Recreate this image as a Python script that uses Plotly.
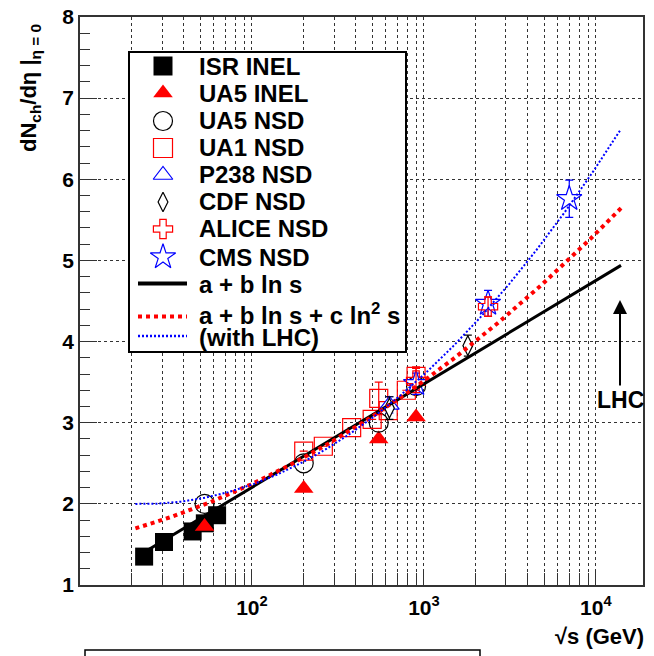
import numpy as np
import plotly.graph_objects as go

# ---- measurements: sqrt(s) [GeV] and dN_ch/deta at eta = 0 ----
isr_inel_e = [23.6, 30.8, 45.2, 53.2, 62.7]
isr_inel_v = [1.35, 1.53, 1.66, 1.76, 1.86]

ua5_inel_e = [53, 200, 546, 900]
ua5_inel_v = [1.72, 2.19, 2.80, 3.07]

ua5_nsd_e = [53, 200, 546, 900]
ua5_nsd_v = [2.00, 2.50, 3.00, 3.45]

ua1_nsd_e = [200, 260, 380, 500, 546, 620, 790, 900]
ua1_nsd_v = [2.65, 2.71, 2.94, 3.04, 3.30, 3.15, 3.40, 3.57]
ua1_nsd_err = [0, 0, 0, 0, 0.20, 0, 0, 0.12]

p238_nsd_e = [630]
p238_nsd_v = [3.22]
p238_nsd_err = [0.10]

cdf_nsd_e = [630, 1800]
cdf_nsd_v = [3.18, 3.95]
cdf_nsd_err = [0.14, 0.13]

alice_nsd_e = [900, 2360]
alice_nsd_v = [3.52, 4.43]
alice_nsd_err = [0.15, 0.12]

cms_nsd_e = [900, 2360, 7000]
cms_nsd_v = [3.48, 4.47, 5.76]
cms_nsd_err = [0.13, 0.16, 0.23]

# fit parameters for dN/deta = a + b ln s + c ln^2 s, with the sqrt(s) span drawn
fit_lin = dict(a=-0.346, b=0.2768, c=0.0, lo=23.6, hi=14000)
fit_quad = dict(a=1.3528, b=-0.02221, c=0.012934, lo=21, hi=14000)
fit_quad_lhc = dict(a=3.1176, b=-0.35552, c=0.028226, lo=21, hi=14000)

# axis ticks
x_major = [100, 1000, 10000]
x_major_text = ["10<sup>2</sup>", "10<sup>3</sup>", "10<sup>4</sup>"]
x_minor = [m * d for d in (10, 100, 1000) for m in range(2, 10)]
y_major = [1, 2, 3, 4, 5, 6, 7, 8]

legend_labels = ["ISR INEL", "UA5 INEL", "UA5 NSD", "UA1 NSD", "P238 NSD",
                 "CDF NSD", "ALICE NSD", "CMS NSD"]
fit_labels = ["a + b ln s", "a + b ln s + c ln<sup>2</sup> s", "(with LHC)"]

# ---- page geometry (pixels) ----
W, H = 654, 656
L, R, T, B = 80, 643, 17, 585
FONT = "Liberation Sans, Arial, Helvetica, sans-serif"
RED, BLUE = "#ff0000", "#0000ff"


def px_x(px):
    return (px - L) / (R - L)


def px_y(py):
    return (B - py) / (B - T)


def fit_curve(p, n=300):
    e = np.logspace(np.log10(p["lo"]), np.log10(p["hi"]), n)
    ln_s = np.log(e ** 2)
    return e, p["a"] + p["b"] * ln_s + p["c"] * ln_s ** 2


fig = go.Figure()


def points(x, y, symbol, color, size, err=None, fill=None, lw=1.2):
    kw = {}
    if err is not None:
        kw["error_y"] = dict(type="data", array=err, color=color,
                             thickness=1.2, width=4)
    fig.add_trace(go.Scatter(
        x=x, y=y, mode="markers", showlegend=False, cliponaxis=False,
        marker=dict(symbol=symbol, size=size,
                    color=fill if fill else color,
                    line=dict(color=color, width=lw)),
        **kw))


points(isr_inel_e, isr_inel_v, "square", "black", 18, lw=0)
points(ua5_inel_e, ua5_inel_v, "triangle-up", RED, 17, lw=0)
points(ua5_nsd_e, ua5_nsd_v, "circle-open", "black", 19)
points(ua1_nsd_e, ua1_nsd_v, "square-open", RED, 18, err=ua1_nsd_err)
points(p238_nsd_e, p238_nsd_v, "triangle-up", BLUE, 17, err=p238_nsd_err, fill="white")
points(cdf_nsd_e, cdf_nsd_v, "diamond-tall", "black", 14, err=cdf_nsd_err, fill="white")
points(cms_nsd_e, cms_nsd_v, "star", BLUE, 19, err=cms_nsd_err, fill="white")
points(alice_nsd_e, alice_nsd_v, "cross-open", RED, 16, err=alice_nsd_err)

# fitted curves
fit_styles = [
    (fit_lin, dict(color="black", width=3)),
    (fit_quad, dict(color=RED, width=4, dash="4px,4px")),
    (fit_quad_lhc, dict(color=BLUE, width=2, dash="2px,2px")),
]
for p, st in fit_styles:
    fx, fy = fit_curve(p)
    fig.add_trace(go.Scatter(x=fx, y=fy, mode="lines", line=st,
                             showlegend=False, hoverinfo="skip"))

# ---- legend drawn on a pixel-scaled overlay subplot ----
leg_mx = 163
leg_rows = [66, 93, 121, 148, 175, 202, 229, 257]
leg_markers = [
    ("square", "black", 19, True),
    ("triangle-up", RED, 17, True),
    ("circle-open", "black", 19, False),
    ("square-open", RED, 19, False),
    ("triangle-up-open", BLUE, 17, False),
    ("diamond-tall-open", "black", 14, False),
    ("cross-open", RED, 16, False),
    ("star-open", BLUE, 19, False),
]
for (sym, col, sz, filled), ry in zip(leg_markers, leg_rows):
    fig.add_trace(go.Scatter(
        x=[leg_mx], y=[ry], mode="markers", xaxis="x2", yaxis="y2",
        showlegend=False, cliponaxis=False, hoverinfo="skip",
        marker=dict(symbol=sym, size=sz, color=col,
                    line=dict(color=col, width=0 if filled else 1.2))))

line_rows = [283.5, 316.5, 336]
for (p, st), ry in zip(fit_styles, line_rows):
    st2 = dict(st)
    if st2["color"] == "black":
        st2["width"] = 4
    if st2["color"] == BLUE:
        st2["width"] = 2.5
    fig.add_trace(go.Scatter(
        x=[138, 187], y=[ry, ry], mode="lines", xaxis="x2", yaxis="y2",
        showlegend=False, hoverinfo="skip", line=st2))

annotations = []
text_rows = leg_rows + [284.5, 314, 337]
for lab, ry in zip(legend_labels + fit_labels, text_rows):
    annotations.append(dict(
        text=lab, x=px_x(197), y=px_y(ry), xref="paper", yref="paper",
        xanchor="left", yanchor="middle", showarrow=False,
        font=dict(family=FONT, size=24, color="black", weight="bold")))

# axis titles
annotations.append(dict(
    text="dN<sub>ch</sub>/dη |<sub>η = 0</sub>", x=px_x(30), y=px_y(88),
    xref="paper", yref="paper", xanchor="center", yanchor="middle",
    textangle=-90, showarrow=False,
    font=dict(family=FONT, size=22, color="black", weight="bold")))
annotations.append(dict(
    text="√s (GeV)", x=px_x(646), y=px_y(636), xref="paper", yref="paper",
    xanchor="right", yanchor="middle", showarrow=False,
    font=dict(family=FONT, size=22, color="black", weight="bold")))

# LHC energy marker
annotations.append(dict(
    text="LHC", x=px_x(620), y=px_y(300), xref="paper", yref="paper",
    ax=0, ay=100, showarrow=True, arrowhead=2, arrowsize=1.4,
    arrowwidth=2, arrowcolor="black",
    font=dict(family=FONT, size=23, color="black", weight="bold")))

# caption box at the foot of the page
annotations.append(dict(
    text="Pseudorapidity density (NSD)", x=px_x(282), y=px_y(664),
    xref="paper", yref="paper", xanchor="center", yanchor="middle",
    showarrow=False,
    font=dict(family=FONT, size=20, color="#e4e4e4", weight="bold")))

shapes = [
    # legend frame
    dict(type="rect", xref="x2", yref="y2", x0=129, x1=406, y0=52, y1=352,
         fillcolor="white", line=dict(color="black", width=2), layer="below"),
    dict(type="rect", xref="paper", yref="paper", x0=px_x(85), x1=px_x(480),
         y0=px_y(650), y1=px_y(680), fillcolor="rgba(0,0,0,0)",
         line=dict(color="black", width=1.5)),
]

axis_common = dict(showline=True, linecolor="#333", linewidth=1.5, mirror=True,
                   ticks="inside", tickcolor="#333", tickwidth=1,
                   showgrid=True, gridcolor="#333", griddash="dot", gridwidth=1,
                   zeroline=False, automargin=False,
                   tickfont=dict(family=FONT, size=21, color="black", weight="bold"))

fig.update_layout(
    width=W, height=H, margin=dict(l=L, r=W - R, t=T, b=H - B, pad=0,
                                   autoexpand=False),
    paper_bgcolor="white", plot_bgcolor="rgba(0,0,0,0)", showlegend=False,
    xaxis=dict(type="log", range=[1, 4.274], tickmode="array",
               tickvals=x_major, ticktext=x_major_text, ticklen=16,
               ticklabelstandoff=3,
               minor=dict(tickmode="array", tickvals=x_minor, ticklen=12,
                          ticks="inside", tickcolor="#333", showgrid=True,
                          gridcolor="#333", griddash="dot", gridwidth=1),
               **axis_common),
    yaxis=dict(range=[1, 8], tickmode="array", tickvals=y_major, ticklen=17,
               minor=dict(dtick=0.2, ticklen=10, ticks="inside",
                          tickcolor="#333", showgrid=False),
               **axis_common),
    xaxis2=dict(domain=[0, 1], range=[L, R], visible=False, anchor="y2",
                automargin=False),
    yaxis2=dict(domain=[0, 1], range=[B, T], visible=False, anchor="x2",
                automargin=False),
    annotations=annotations, shapes=shapes,
)

fig.write_html("out.html")
